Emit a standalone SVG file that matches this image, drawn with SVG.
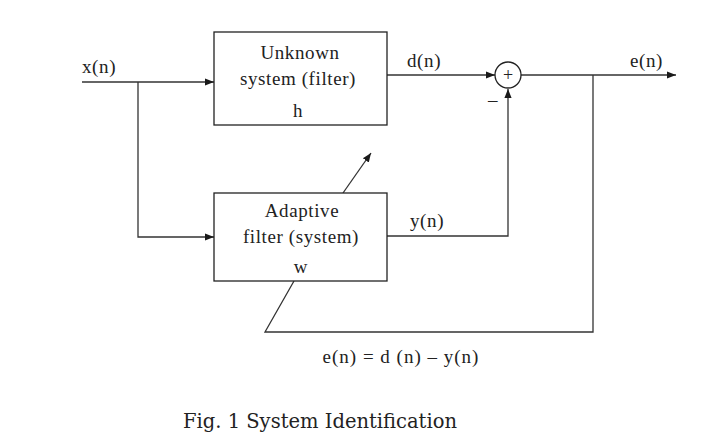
<svg xmlns="http://www.w3.org/2000/svg" width="701" height="441" viewBox="0 0 701 441">
<defs>
<marker id="ah" viewBox="0 0 10 10" refX="10" refY="5" markerWidth="9" markerHeight="9" markerUnits="userSpaceOnUse" orient="auto">
<path d="M0,1 L10,5 L0,9 Z" fill="#1a1a1a"/>
</marker>
</defs>
<style>
.box{fill:#fff;stroke:#222;stroke-width:1.3}
.ln{fill:none;stroke:#333;stroke-width:1.3}
.t{font-family:"Liberation Serif","DejaVu Serif",serif;font-size:19px;letter-spacing:0.6px;fill:#222}
.c{text-anchor:middle}
</style>
<rect width="701" height="441" fill="#fff"/>
<g id="connectors">
<path class="ln" d="M82,82 H214" marker-end="url(#ah)"/>
<path class="ln" d="M138,82 V237 H214" marker-end="url(#ah)"/>
<path class="ln" d="M387,75 H495" marker-end="url(#ah)"/>
<path class="ln" d="M387,236 H508 V89" marker-end="url(#ah)"/>
<path class="ln" d="M521,75 H676" marker-end="url(#ah)"/>
<path class="ln" d="M593,75 V332 H265 L294,281"/>
<path class="ln" d="M343,193 L371,153" marker-end="url(#ah)"/>
</g>
<g id="unknown">
<rect class="box" x="214" y="32" width="173" height="93"/>
<text class="t c" x="300" y="59">Unknown</text>
<text class="t c" x="298" y="85">system (filter)</text>
<text class="t c" x="298" y="117">h</text>
</g>
<g id="adaptive">
<rect class="box" x="214" y="193" width="173" height="88"/>
<text class="t c" x="302" y="217">Adaptive</text>
<text class="t c" x="301" y="243">filter (system)</text>
<text class="t c" x="301" y="273">w</text>
</g>
<g id="sum">
<circle cx="508" cy="75" r="13" fill="#fff" stroke="#222" stroke-width="1.3"/>
<text class="t c" x="508" y="81" style="font-size:18px;letter-spacing:0">+</text>
<text class="t c" x="493" y="106">–</text>
</g>
<g id="labels">
<text class="t" x="82" y="73">x(n)</text>
<text class="t" x="407" y="67">d(n)</text>
<text class="t" x="630" y="67">e(n)</text>
<text class="t" x="410" y="227">y(n)</text>
<text class="t c" x="401" y="363" style="letter-spacing:1px">e(n) = d (n) – y(n)</text>
<text class="t" x="183" y="428" style="font-family:'DejaVu Serif','Liberation Serif',serif;font-size:19.5px;letter-spacing:0">Fig. 1 System Identification</text>
</g>
</svg>
